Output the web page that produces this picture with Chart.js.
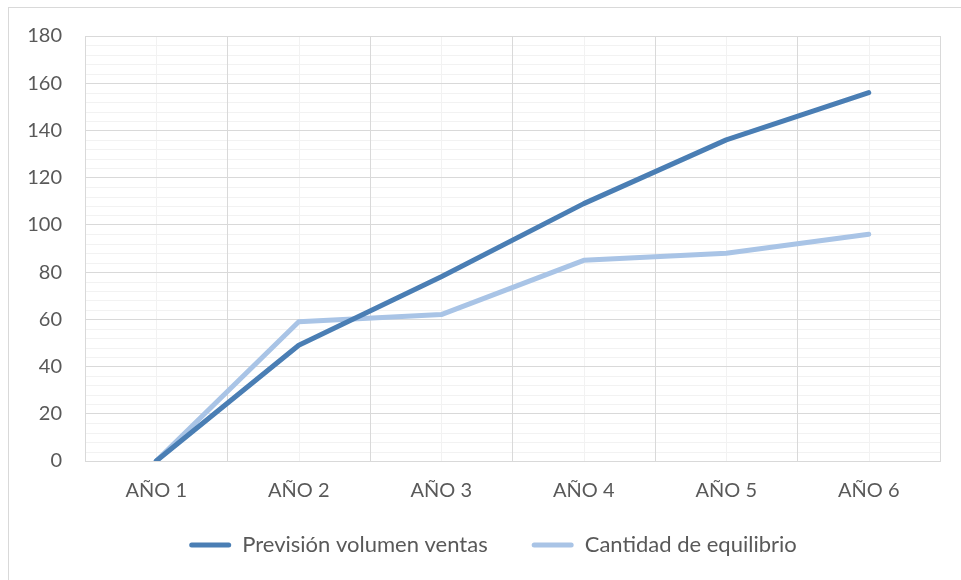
<!DOCTYPE html>
<html>
<head>
<meta charset="utf-8">
<script src="https://cdn.jsdelivr.net/npm/chart.js@4.4.1/dist/chart.umd.min.js"></script>
<style>
  html, body { margin: 0; padding: 0; background: #fff; overflow: hidden; }
  #frame { position: absolute; left: 8px; top: 7px; width: 1000px; height: 600px; border: 1px solid #d9d9d9; }
  #wrap { position: absolute; left: 0; top: 0; width: 961px; height: 580px; }
</style>
</head>
<body>
<div id="frame"></div>
<div id="wrap"><canvas id="chart" width="961" height="580"></canvas></div>
<script>
// Categories and series
const years = ['AÑO 1', 'AÑO 2', 'AÑO 3', 'AÑO 4', 'AÑO 5', 'AÑO 6'];
const prevision = [0, 49, 78, 109, 136, 156];
const equilibrio = [0, 59, 62, 85, 88, 96];
const seriesNames = ['Previsión volumen ventas', 'Cantidad de equilibrio'];

// Axis range
const yMin = 0;
const yMax = 180;
const yMajorStep = 20;
const yMinorStep = 4;

const DARK = '#4a7eb4';
const LIGHT = '#a9c4e6';
const TEXT = '#595959';
const AXIS_FONT = { family: 'Lato, "Open Sans", sans-serif', size: 20, lineHeight: 1 };
const LEGEND_FONT = { family: 'Lato, "Open Sans", sans-serif', size: 22 };

// Light minor grid, drawn beneath the major grid lines
const minorGrid = {
  id: 'minorGrid',
  beforeDraw(chart) {
    const { ctx, chartArea: a, scales: { x, y } } = chart;
    ctx.save();
    ctx.strokeStyle = '#f2f2f2';
    ctx.lineWidth = 1;
    ctx.beginPath();
    for (let v = yMin + yMinorStep; v < yMax; v += yMinorStep) {
      if (v % yMajorStep === 0) continue;
      const py = Math.round(y.getPixelForValue(v)) + 0.5;
      ctx.moveTo(a.left, py);
      ctx.lineTo(a.right, py);
    }
    years.forEach((_, i) => {
      const px = Math.round(x.getPixelForValue(i)) + 0.5;
      ctx.moveTo(px, a.top);
      ctx.lineTo(px, a.bottom);
    });
    ctx.stroke();
    ctx.restore();
  }
};

// Pull the legend row a little closer to the axis and centre it under the text block
const legendNudge = {
  id: 'legendNudge',
  afterLayout(chart) {
    const l = chart.legend;
    if (!l) return;
    l.top -= 11; l.bottom -= 11;
    l.left += 23; l.right += 23;
  }
};

new Chart(document.getElementById('chart'), {
  type: 'line',
  data: {
    labels: years,
    datasets: [
      { label: seriesNames[0], data: prevision, borderColor: DARK, backgroundColor: DARK },
      { label: seriesNames[1], data: equilibrio, borderColor: LIGHT, backgroundColor: LIGHT }
    ]
  },
  options: {
    responsive: false,
    animation: false,
    devicePixelRatio: 1,
    layout: { padding: { left: 0, right: 21, top: 36, bottom: 3 } },
    elements: {
      line: { borderWidth: 5, tension: 0, borderCapStyle: 'round', borderJoinStyle: 'round' },
      point: { radius: 0, hoverRadius: 0 }
    },
    scales: {
      x: {
        offset: true,
        grid: { offset: true, color: '#d9d9d9', lineWidth: 1, drawTicks: false },
        border: { color: '#d9d9d9' },
        ticks: { color: TEXT, font: AXIS_FONT, padding: 20, maxRotation: 0 },
        afterFit(s) { s.height = 40; }
      },
      y: {
        min: yMin,
        max: yMax,
        grid: { color: '#d9d9d9', lineWidth: 1, drawTicks: false },
        border: { color: '#d9d9d9' },
        ticks: { stepSize: yMajorStep, color: TEXT, font: AXIS_FONT, padding: 23 },
        afterFit(s) { s.width = 85; }
      }
    },
    plugins: {
      legend: {
        position: 'bottom',
        labels: {
          color: TEXT,
          font: LEGEND_FONT,
          boxWidth: 42,
          boxHeight: 5,
          padding: 44,
          generateLabels(chart) {
            return chart.data.datasets.map((d, i) => ({
              text: d.label,
              fillStyle: d.borderColor,
              strokeStyle: d.borderColor,
              lineWidth: 0,
              borderRadius: 2.5,
              fontColor: TEXT,
              datasetIndex: i,
              hidden: false
            }));
          }
        }
      },
      tooltip: { enabled: false }
    }
  },
  plugins: [minorGrid, legendNudge]
});
</script>
</body>
</html>
